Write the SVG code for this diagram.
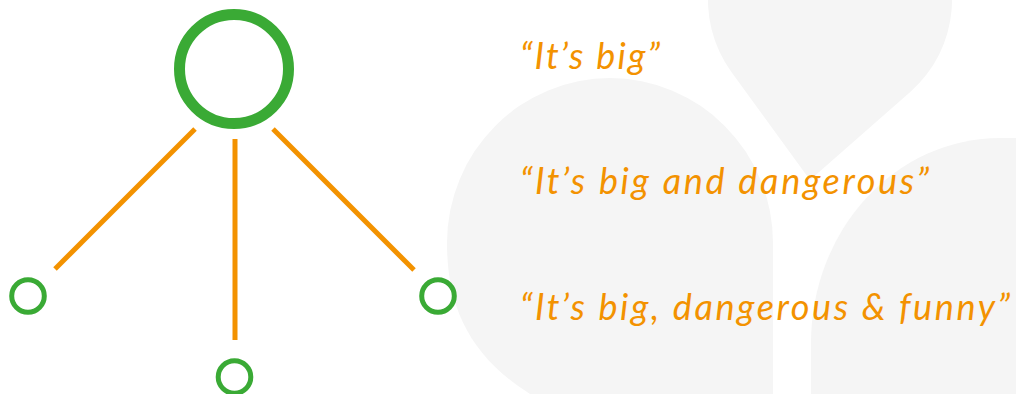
<svg xmlns="http://www.w3.org/2000/svg" width="1016" height="394" viewBox="0 0 1016 394">
  <style>
    .bg { fill: #f5f5f5; stroke: none; }
    .node { fill: none; stroke: #3aaa35; }
    .big { stroke-width: 11; }
    .small { stroke-width: 5; }
    .edge { stroke: #f39200; stroke-width: 5; stroke-linecap: butt; fill: none; }
    .label { font-family: "Lato", "Open Sans", "Liberation Sans", sans-serif; font-style: italic; font-size: 36px; fill: #f39200; }
  </style>
  <rect width="1016" height="394" fill="#ffffff"/>
  <g id="background">
    <path class="bg" d="M 773 394 L 773 243 A 163 165 0 0 0 447 243 C 447 305 468 355 530 394 Z"/>
    <path class="bg" d="M 731.4 71.9 L 810 180 L 910.5 91.7 A 122 122 0 1 0 731.4 71.9 Z"/>
    <path class="bg" d="M 811 394 L 811 343 A 189 205 0 0 1 1000 138 L 1016 138 L 1016 394 Z"/>
  </g>
  <g id="connectors">
    <line class="edge" x1="195" y1="129" x2="55" y2="269"/>
    <line class="edge" x1="235" y1="139" x2="235" y2="340"/>
    <line class="edge" x1="273" y1="129" x2="414" y2="270"/>
  </g>
  <g id="node-root"><circle class="node big" cx="234" cy="69" r="54.5"/></g>
  <g id="node-left"><circle class="node small" cx="28" cy="296" r="16.3"/></g>
  <g id="node-bottom"><circle class="node small" cx="234.5" cy="377" r="16.3"/></g>
  <g id="node-right"><circle class="node small" cx="438" cy="296" r="16.3"/></g>
  <g id="labels">
    <text class="label" x="520" y="69" textLength="140" lengthAdjust="spacing">“It’s big”</text>
    <text class="label" x="520" y="194" textLength="409" lengthAdjust="spacing">“It’s big and dangerous”</text>
    <text class="label" x="520" y="320" textLength="490" lengthAdjust="spacing">“It’s big, dangerous &amp; funny”</text>
  </g>
</svg>
